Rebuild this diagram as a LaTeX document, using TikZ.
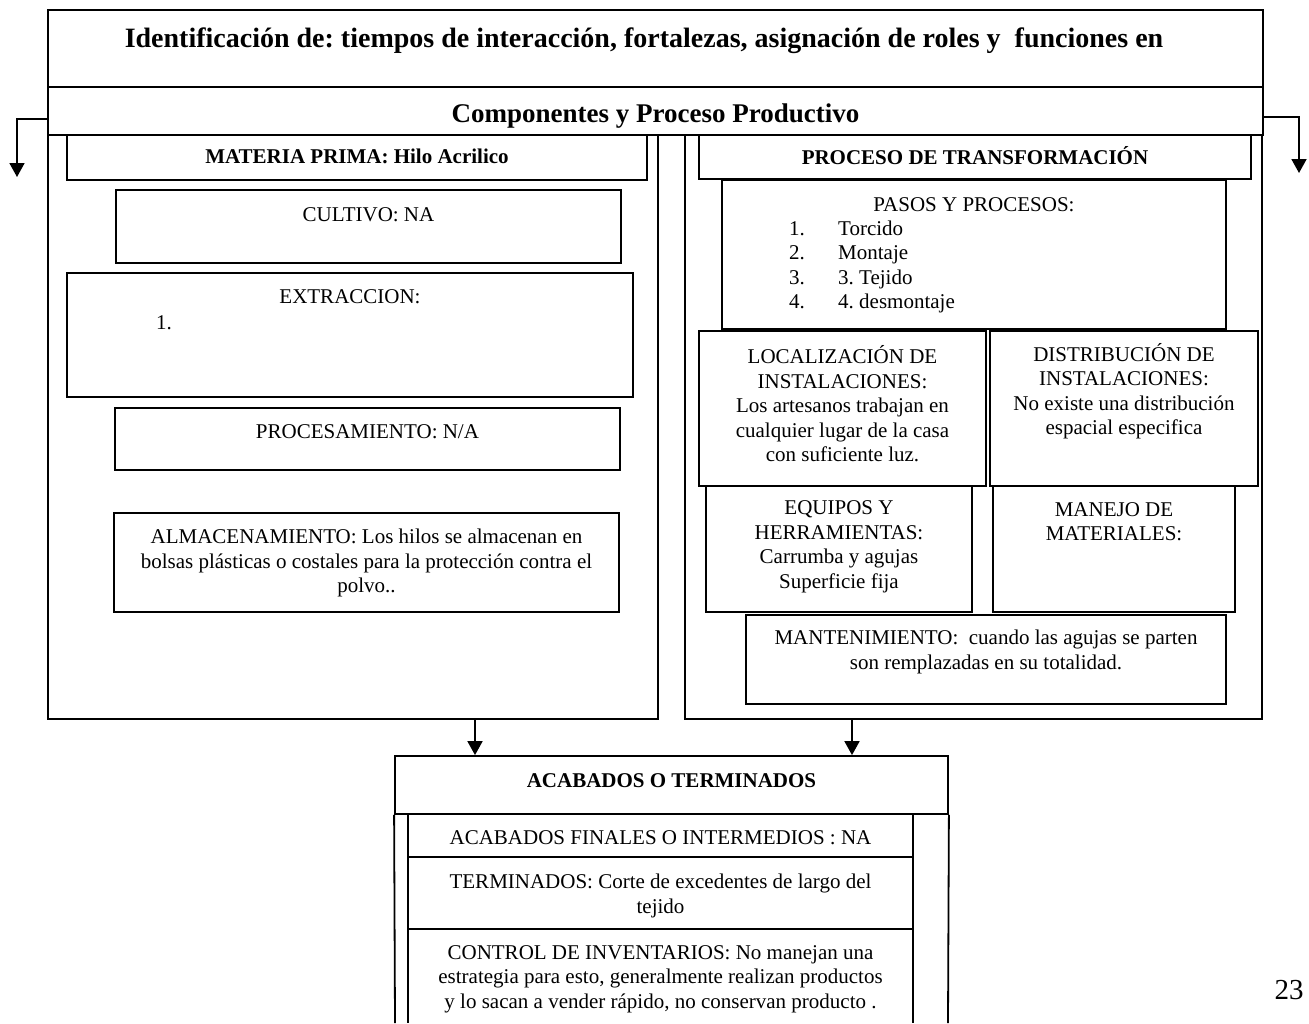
\documentclass[tikz,border=0pt]{standalone}
\usepackage{fontspec}
\setmainfont{Liberation Serif}
\usetikzlibrary{arrows.meta,fit}
\frenchspacing
\begin{document}
\begin{tikzpicture}[x=1pt,y=-1pt,
  box/.style={draw, line width=1.8pt, inner sep=0pt, fit={#1}},
  txt/.style={font=\fontsize{21}{24.5}\selectfont, align=center, inner sep=0pt},
  hd/.style={font=\fontsize{21}{24.5}\selectfont\bfseries, inner sep=0pt},
  frame/.style={line width=1.8pt},
  arr/.style={line width=1.8pt, -{Triangle[width=15pt,length=14pt]}}]
\useasboundingbox (0,0) rectangle (1309,1023);
% header boxes
\node[box={(48,10) (1263,87)}] (title) {};
\node[box={(48,87) (1263,135)}] (comp) {};
% columns
\node[box={(48,135) (658,719)}] (leftcol) {};
\node[box={(685,135) (1262,719)}] (rightcol) {};
% left column boxes
\node[box={(67,135) (647,180)}] (mp) {};
\node[box={(116,190) (621,263)}] (cult) {};
\node[box={(67,273) (633,397)}] (extr) {};
\node[box={(115,408) (620,470)}] (proc) {};
\node[box={(114,513) (619,612)}] (alm) {};
% right column boxes
\node[box={(699,135) (1251,179)}] (pt) {};
\node[box={(722,180) (1226,329)}] (pasos) {};
\node[box={(699,331) (986,486)}] (loc) {};
\node[box={(990,331) (1258,486)}] (dist) {};
\node[box={(706,486) (972,612)}] (equ) {};
\node[box={(993,486) (1235,612)}] (man) {};
\node[box={(746,615) (1226,704)}] (mant) {};
% bottom box
\node[box={(395,756) (948,814)}] (acab) {};
\coordinate (acabL) at (395,1023);
\coordinate (acabR) at (948,1023);
\draw[frame] (acab.south west) -- (acabL);
\draw[frame] (acab.south east) -- (acabR);
\coordinate (inTL) at (408,814);
\coordinate (inTR) at (913,814);
\coordinate (inBL) at (408,1023);
\coordinate (inBR) at (913,1023);
\draw[frame] (inTL) -- (inBL);
\draw[frame] (inTR) -- (inBR);
\coordinate (s1L) at (408,857);
\coordinate (s1R) at (913,857);
\coordinate (s2L) at (408,929);
\coordinate (s2R) at (913,929);
\draw[frame] (s1L) -- (s1R);
\draw[frame] (s2L) -- (s2R);
% texts
\node[inner sep=0pt, font=\fontsize{28}{32}\selectfont\bfseries] (titletxt) at (644,41)
  {Identificación de: tiempos de interacción, fortalezas, asignación de roles y \ funciones en};
\node[inner sep=0pt, font=\fontsize{27}{31}\selectfont\bfseries] (comptxt) at (655.5,116)
  {Componentes y Proceso Productivo};
\node[hd] (mptxt) at (357,156) {MATERIA PRIMA: Hilo Acrilico};
\node[hd] (pttxt) at (975,156) {PROCESO DE TRANSFORMACIÓN};
\node[hd] (acabtxt) at (671.5,781) {ACABADOS O TERMINADOS};
\node[txt] (culttxt) at (368.5,215) {CULTIVO: NA};
\node[txt] (extrtxt) at (350,297) {EXTRACCION:};
\node[txt, anchor=west] (extr1) at (156,323) {1.};
\node[txt] (proctxt) at (367.5,432) {PROCESAMIENTO: N/A};
\node[txt] (almtxt) at (366.5,563) {ALMACENAMIENTO: Los hilos se almacenan en\\bolsas plásticas o costales para la protección contra el\\polvo..};
\node[txt] (pasostxt) at (974,205) {PASOS Y PROCESOS:};
\node[txt, align=left, anchor=west] (pasoslist) at (789,267)
  {\makebox[49pt][l]{1.}Torcido\\\makebox[49pt][l]{2.}Montaje\\\makebox[49pt][l]{3.}3. Tejido\\\makebox[49pt][l]{4.}4. desmontaje};
\node[txt] (loctxt) at (842.5,404) {LOCALIZACIÓN DE\\INSTALACIONES:\\Los artesanos trabajan en\\cualquier lugar de la casa\\con suficiente luz.};
\node[txt] (disttxt) at (1124,391) {DISTRIBUCIÓN DE\\INSTALACIONES:\\No existe una distribución\\espacial especifica};
\node[txt] (equtxt) at (839,547) {EQUIPOS Y\\HERRAMIENTAS:\\Carrumba y agujas\\Superficie fija};
\node[txt] (mantxt) at (1114,521.5) {MANEJO DE\\MATERIALES:};
\node[txt] (manttxt) at (986,652) {MANTENIMIENTO: \ cuando las agujas se parten\\son remplazadas en su totalidad.};
\node[txt] (fintxt) at (660.5,838) {ACABADOS FINALES O INTERMEDIOS : NA};
\node[txt] (termtxt) at (660.5,896) {TERMINADOS: Corte de excedentes de largo del\\tejido};
\node[txt] (conttxt) at (660.5,979) {CONTROL DE INVENTARIOS: No manejan una\\estrategia para esto, generalmente realizan productos\\y lo sacan a vender rápido, no conservan producto .};
\node[inner sep=0pt, font=\fontsize{29}{33}\selectfont] (pagenum) at (1289,990) {23};
% arrows
\coordinate (ltip) at (17,177);
\coordinate (rtip) at (1299,173);
\draw[arr] ([yshift=-8pt]comp.west) -| (ltip);
\draw[arr] ([yshift=-6pt]comp.east) -| (rtip);
\coordinate (ax) at (475,0);
\coordinate (bx) at (852,0);
\draw[arr] (ax |- leftcol.south) -- (ax |- acab.north);
\draw[arr] (bx |- rightcol.south) -- (bx |- acab.north);
\end{tikzpicture}
\end{document}
